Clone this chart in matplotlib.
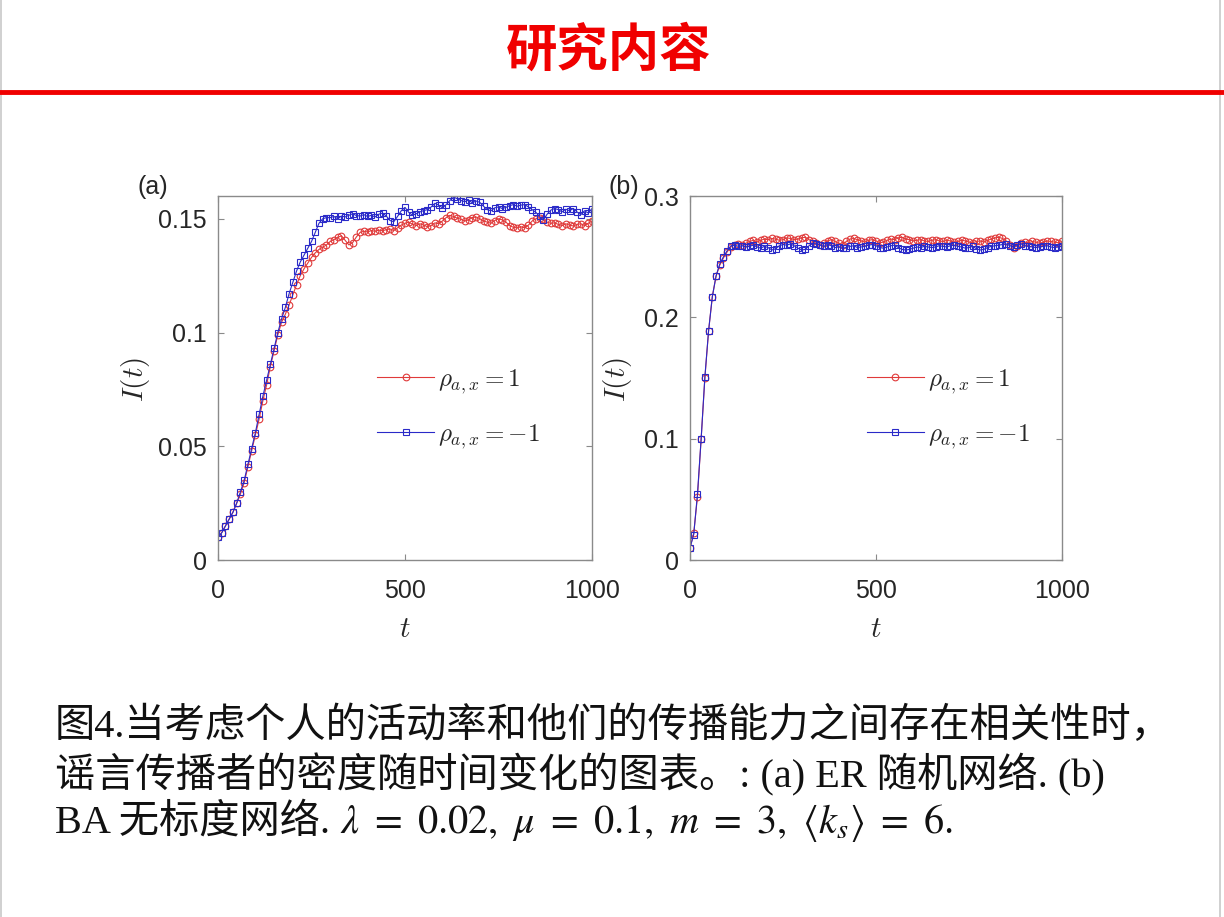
import matplotlib; matplotlib.use("Agg")
import matplotlib.pyplot as plt
from matplotlib.lines import Line2D
import numpy as np

plt.rcParams["mathtext.fontset"] = "cm"
plt.rcParams["font.family"] = ["Liberation Sans", "Noto Sans CJK SC"]

# time grid (one sample every 10 steps)
t = np.arange(0, 1001, 10)

# panel (a): ER random network
er_pos = [0.010, 0.012, 0.015, 0.018, 0.021, 0.025, 0.029, 0.034, 0.041, 0.048,
          0.055, 0.062, 0.070, 0.077, 0.085, 0.092, 0.099, 0.1045, 0.108, 0.112,
          0.1165, 0.121, 0.125, 0.128, 0.1305, 0.133, 0.135, 0.1365, 0.1375, 0.1385,
          0.1400, 0.1408, 0.1418, 0.1425, 0.1405, 0.1385, 0.1395, 0.1420, 0.1440, 0.1445,
          0.1442, 0.1448, 0.1445, 0.1450, 0.1447, 0.1452, 0.1455, 0.1448, 0.1460, 0.1472,
          0.1480, 0.1485, 0.1476, 0.1470, 0.1478, 0.1472, 0.1465, 0.1470, 0.1482, 0.1478,
          0.1490, 0.1505, 0.1515, 0.1510, 0.1502, 0.1498, 0.1490, 0.1495, 0.1505, 0.1508,
          0.1500, 0.1490, 0.1485, 0.1480, 0.1492, 0.1500, 0.1495, 0.1485, 0.1470, 0.1462,
          0.1460, 0.1465, 0.1460, 0.1472, 0.1490, 0.1500, 0.1505, 0.1498, 0.1485, 0.1480,
          0.1482, 0.1475, 0.1470, 0.1478, 0.1472, 0.1468, 0.1475, 0.1478, 0.1470, 0.1480,
          0.1490]
er_neg = [0.010, 0.012, 0.015, 0.018, 0.021, 0.025, 0.030, 0.035, 0.042, 0.049,
          0.056, 0.064, 0.072, 0.079, 0.086, 0.093, 0.100, 0.106, 0.111, 0.117,
          0.122, 0.127, 0.131, 0.134, 0.137, 0.140, 0.144, 0.148, 0.150, 0.1505,
          0.1505, 0.1510, 0.1500, 0.1512, 0.1508, 0.1515, 0.1522, 0.1514, 0.1512, 0.1518,
          0.1510, 0.1515, 0.1508, 0.1520, 0.1525, 0.1512, 0.1492, 0.1487, 0.1510, 0.1535,
          0.1550, 0.1528, 0.1515, 0.1522, 0.1530, 0.1536, 0.1540, 0.1552, 0.1568, 0.1560,
          0.1548, 0.1562, 0.1580, 0.1595, 0.1588, 0.1580, 0.1575, 0.1582, 0.1570, 0.1578,
          0.1572, 0.1555, 0.1540, 0.1535, 0.1548, 0.1552, 0.1545, 0.1550, 0.1558, 0.1562,
          0.1555, 0.1560, 0.1562, 0.1552, 0.1540, 0.1528, 0.1510, 0.1495, 0.1520, 0.1538,
          0.1545, 0.1540, 0.1530, 0.1542, 0.1535, 0.1545, 0.1530, 0.1518, 0.1535, 0.1525,
          0.1545]

# panel (b): BA scale-free network
ba_pos = [0.010, 0.022, 0.052, 0.100, 0.150, 0.189, 0.217, 0.234, 0.243, 0.249,
          0.254, 0.258, 0.2600, 0.2605, 0.2595, 0.2610, 0.2625, 0.2635, 0.2620, 0.2635,
          0.2645, 0.2640, 0.2650, 0.2645, 0.2635, 0.2640, 0.2655, 0.2650, 0.2640, 0.2645,
          0.2655, 0.2660, 0.2640, 0.2625, 0.2610, 0.2595, 0.2610, 0.2630, 0.2640, 0.2625,
          0.2610, 0.2600, 0.2625, 0.2645, 0.2650, 0.2640, 0.2630, 0.2620, 0.2635, 0.2640,
          0.2630, 0.2615, 0.2620, 0.2635, 0.2645, 0.2640, 0.2655, 0.2660, 0.2645, 0.2640,
          0.2630, 0.2635, 0.2640, 0.2630, 0.2625, 0.2635, 0.2640, 0.2630, 0.2625, 0.2635,
          0.2630, 0.2620, 0.2625, 0.2635, 0.2630, 0.2620, 0.2615, 0.2625, 0.2630, 0.2620,
          0.2635, 0.2645, 0.2655, 0.2660, 0.2650, 0.2630, 0.2600, 0.2575, 0.2590, 0.2610,
          0.2620, 0.2615, 0.2625, 0.2620, 0.2610, 0.2620, 0.2630, 0.2625, 0.2620, 0.2615,
          0.2625]
ba_neg = [0.010, 0.021, 0.054, 0.100, 0.151, 0.189, 0.217, 0.234, 0.244, 0.250,
          0.255, 0.259, 0.2595, 0.2585, 0.2590, 0.2580, 0.2585, 0.2595, 0.2580, 0.2570,
          0.2585, 0.2575, 0.2555, 0.2565, 0.2590, 0.2600, 0.2595, 0.2605, 0.2590, 0.2570,
          0.2555, 0.2560, 0.2590, 0.2610, 0.2605, 0.2595, 0.2585, 0.2600, 0.2590, 0.2575,
          0.2580, 0.2570, 0.2575, 0.2585, 0.2590, 0.2575, 0.2580, 0.2585, 0.2595, 0.2600,
          0.2590, 0.2575, 0.2570, 0.2580, 0.2590, 0.2595, 0.2575, 0.2560, 0.2555, 0.2560,
          0.2570, 0.2580, 0.2575, 0.2585, 0.2580, 0.2575, 0.2580, 0.2590, 0.2585, 0.2580,
          0.2590, 0.2595, 0.2585, 0.2580, 0.2570, 0.2575, 0.2585, 0.2565, 0.2555, 0.2560,
          0.2575, 0.2585, 0.2590, 0.2595, 0.2600, 0.2605, 0.2590, 0.2580, 0.2600, 0.2605,
          0.2590, 0.2585, 0.2580, 0.2575, 0.2580, 0.2585, 0.2590, 0.2580, 0.2575, 0.2580,
          0.2585]

x_ticks = [0, 500, 1000]
a_ticks = [0, 0.05, 0.1, 0.15]; a_labels = ["0", "0.05", "0.1", "0.15"]
b_ticks = [0, 0.1, 0.2, 0.3]; b_labels = ["0", "0.1", "0.2", "0.3"]
leg_labels = [r"$\rho_{a,x} = 1$", r"$\rho_{a,x} = -1$"]

RED = "#e03a3a"; BLUE = "#2a2ac8"; AX = "#8a8a8a"; TXT = "#262626"

fig = plt.figure(figsize=(12.24, 9.17), dpi=100)
fig.patch.set_facecolor("white")
# thin slide edges left and right
for xe in (0.001, 0.997):
    fig.add_artist(Line2D([xe, xe], [0, 1], color="#c8c8c8", lw=1.2))

# slide header
fig.text(0.4975, 1 - 50/917, "研究内容", ha="center", va="center", fontsize=37,
         color="#f00000", fontweight="bold", family=["Noto Sans CJK SC"])
fig.add_artist(Line2D([0, 1], [1 - 92/917, 1 - 92/917], color="#f00000", lw=3.5))

def panel(rect, pos, neg, yticks, ylabels, ylim, ylab_x, leg_x, tag, tag_x):
    ax = fig.add_axes(rect)
    ax.plot(t, pos, "-o", color=RED, lw=0.8, ms=4.8, mfc="none", mew=0.8, label=leg_labels[0])
    ax.plot(t, neg, "-s", color=BLUE, lw=0.8, ms=4.2, mfc="none", mew=0.8, label=leg_labels[1])
    ax.set_xlim(0, 1000); ax.set_ylim(*ylim)
    ax.set_xticks(x_ticks); ax.set_xticklabels([str(v) for v in x_ticks])
    ax.set_yticks(yticks); ax.set_yticklabels(ylabels)
    ax.tick_params(direction="in", length=4, width=0.8, colors=AX, labelcolor=TXT,
                   labelsize=18, top=True, right=True, pad=8)
    ax.tick_params(axis="x", pad=14)
    for s in ax.spines.values():
        s.set_color(AX); s.set_linewidth(1.0)
    ax.set_xlabel(r"$t$", fontsize=21, color=TXT)
    ax.xaxis.set_label_coords(0.5, -0.15)
    ax.set_ylabel(r"$I(t)$", fontsize=21, color=TXT)
    ax.yaxis.set_label_coords(ylab_x, 0.495)
    ax.legend(loc="upper left", bbox_to_anchor=(leg_x, 0.53), frameon=False, fontsize=18,
              handlelength=2.3, handletextpad=0.15, labelspacing=1.05, borderpad=0,
              borderaxespad=0, labelcolor=TXT)
    fig.text(tag_x, 1 - 187/917, tag, ha="center", va="center", fontsize=18, color=TXT)
    return ax

panel([218/1224, 1 - 560/917, 374/1224, 364/917], er_pos, er_neg, a_ticks, a_labels,
      (0, 0.16), -0.176, 0.425, "(a)", 153/1224)
panel([690/1224, 1 - 560/917, 372/1224, 364/917], ba_pos, ba_neg, b_ticks, b_labels,
      (0, 0.3), -0.15, 0.475, "(b)", 624/1224)

# caption
CAP = dict(fontsize=29, color="#111111", va="center", ha="left",
           family=["Liberation Serif", "Noto Sans CJK SC"])
fig.text(55/1224, 1 - 727/917, "图4.当考虑个人的活动率和他们的传播能力之间存在相关性时，", **CAP)
fig.text(55/1224, 1 - 775/917, "谣言传播者的密度随时间变化的图表。: (a) ER 随机网络. (b)", **CAP)
head = fig.text(55/1224, 1 - 823/917, "BA 无标度网络.", **CAP)
bb = head.get_window_extent(fig.canvas.get_renderer())
fig.text((bb.x1 + 10)/fig.bbox.width, 1 - 823/917,
         r"$\lambda\ =\ 0.02,\ \mu\ =\ 0.1,\ m\ =\ 3,\ \langle k_s\rangle\ =\ 6.$",
         fontsize=29, color="#111111", va="center", ha="left", math_fontfamily="stix")

fig.savefig("out.png", dpi=100, facecolor="white")
